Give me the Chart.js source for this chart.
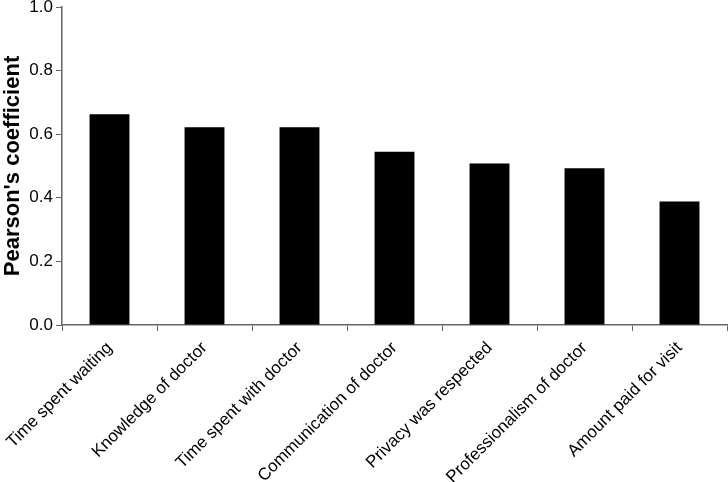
<!DOCTYPE html>
<html>
<head>
<meta charset="utf-8">
<script src="https://cdn.jsdelivr.net/npm/chart.js@4"></script>
<style>
  body { margin: 0; background: #fff; }
  #box { width: 728px; height: 482px; }
</style>
</head>
<body>
<div id="box"><canvas id="myChart"></canvas></div>
<script>
// values
var labels = ["Time spent waiting", "Knowledge of doctor", "Time spent with doctor",
              "Communication of doctor", "Privacy was respected",
              "Professionalism of doctor", "Amount paid for visit"];
var values = [0.663, 0.622, 0.622, 0.545, 0.508, 0.493, 0.388];
var yTicks = [0, 0.2, 0.4, 0.6, 0.8, 1.0];

var axisColor = "#666";

function noPad(scale) {
  scale.paddingTop = 0;
  scale.paddingBottom = 0;
  scale.paddingLeft = 0;
  scale.paddingRight = 0;
}

new Chart(document.getElementById("myChart"), {
  type: "bar",
  data: {
    labels: labels,
    datasets: [{
      data: values,
      backgroundColor: "#000",
      borderColor: "#000",
      borderWidth: 0,
      barPercentage: 0.42,
      categoryPercentage: 1.0
    }]
  },
  options: {
    responsive: true,
    maintainAspectRatio: false,
    animation: false,
    layout: { autoPadding: false, padding: { top: 7, right: 1, left: 0, bottom: 0 } },
    plugins: {
      legend: { display: false },
      tooltip: { enabled: false }
    },
    scales: {
      x: {
        grid: { display: true, offset: true, drawOnChartArea: false, drawTicks: true,
                tickLength: 6, color: axisColor },
        border: { color: axisColor, width: 1.5 },
        ticks: {
          color: "#000",
          font: { family: "Liberation Sans", size: 17 },
          maxRotation: 45, minRotation: 45,
          padding: 7
        },
        afterFit: function(scale) { noPad(scale); scale.height = 157; }
      },
      y: {
        min: 0, max: 1.0,
        afterBuildTicks: function(scale) {
          scale.ticks = yTicks.map(function(v) { return { value: v }; });
        },
        grid: { display: true, drawOnChartArea: false, drawTicks: true,
                tickLength: 6, color: axisColor },
        border: { color: axisColor, width: 1.5 },
        ticks: {
          color: "#000",
          font: { family: "Liberation Sans", size: 17 },
          padding: 3,
          callback: function(v) { return Number(v).toFixed(1); }
        },
        title: {
          display: true,
          text: "Pearson's coefficient",
          color: "#000",
          font: { family: "Liberation Sans", size: 22, weight: "bold" },
          padding: { top: 0, bottom: 2 }
        },
        afterFit: function(scale) { noPad(scale); scale.width = 62; }
      }
    }
  }
});
</script>
</body>
</html>
